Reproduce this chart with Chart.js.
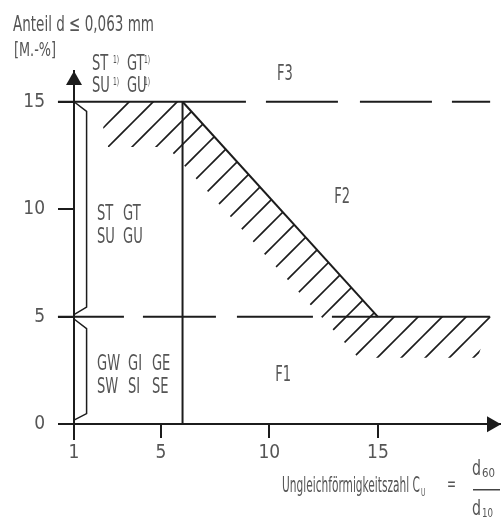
<!DOCTYPE html>
<html>
<head>
<meta charset="utf-8">
<script src="https://cdn.jsdelivr.net/npm/chart.js@4.4.0/dist/chart.umd.min.js"></script>
<style>
  html, body { margin: 0; padding: 0; background: #fff; }
  #wrap { width: 501px; height: 530px; }
</style>
</head>
<body>
<div id="wrap"><canvas id="chart"></canvas></div>
<script>
// tick values
const xTicks = [1, 5, 10, 15];
const yTicks = [0, 5, 10, 15];

// boundary lines, [C_U, Anteil M.-%]
const line15 = [[0.26, 15], [20.17, 15]];
const line5 = [[0.26, 5], [20.17, 5]];
const lineCu6 = [[6, 0], [6, 15]];
const lineSlope = [[6, 15], [15, 5]];

// braces next to the y axis
const braceUpper = [[1, 15], [1.58, 14.55], [1.58, 5.45], [1, 5.1]];
const braceLower = [[1, 4.9], [1.58, 4.45], [1.58, 0.5], [1, 0.2]];

// hatched transition zone
const hatchZone = [
  [3.3, 15], [6, 15], [15, 5], [20.2, 5], [19.6, 3.1],
  [14.1, 3.1], [5.3, 12.9], [2.57, 12.9], [2.34, 13.83], [3.3, 15]
];

const INK = '#1c1c1c';
const TXT = '#555';
const FONT = "'Liberation Sans Narrow', 'DejaVu Sans Condensed', sans-serif";

// hatch pattern, lines at 45 deg
const tile = document.createElement('canvas');
tile.width = 24;
tile.height = 24;
const tc = tile.getContext('2d');
tc.strokeStyle = INK;
tc.lineWidth = 1.6;
tc.beginPath();
tc.moveTo(-2, 17); tc.lineTo(17, -2);
tc.moveTo(13, 26); tc.lineTo(26, 13);
tc.stroke();
const hatch = tc.createPattern(tile, 'repeat');

const toPts = a => a.map(([x, y]) => ({x, y}));

const lineDs = (pts, extra) => Object.assign({
  data: toPts(pts),
  showLine: true,
  borderColor: INK,
  borderWidth: 2,
  pointRadius: 0,
  fill: false,
  tension: 0,
  clip: false
}, extra);

function drawText(ctx, str, x, y, size, opts) {
  opts = opts || {};
  ctx.save();
  ctx.font = size + 'px ' + FONT;
  let sx = opts.sx || 0.66;
  if (opts.width) sx = opts.width / ctx.measureText(str).width;
  ctx.translate(x, y);
  ctx.scale(sx, 1);
  ctx.textAlign = opts.align || 'left';
  ctx.textBaseline = 'alphabetic';
  ctx.fillText(str, 0, 0);
  ctx.restore();
}

const labels = {
  id: 'labels',
  afterDraw(chart) {
    const {ctx, chartArea, scales: {x, y}} = chart;
    const px = v => x.getPixelForValue(v);
    const py = v => y.getPixelForValue(v);

    // arrow heads
    ctx.save();
    ctx.fillStyle = INK;
    const ax = px(1), ay = py(0);
    ctx.beginPath();
    ctx.moveTo(ax, chartArea.top);
    ctx.lineTo(ax - 8, chartArea.top + 14);
    ctx.lineTo(ax + 8, chartArea.top + 14);
    ctx.closePath();
    ctx.fill();
    ctx.beginPath();
    ctx.moveTo(chartArea.right, ay);
    ctx.lineTo(chartArea.right - 14, ay - 8);
    ctx.lineTo(chartArea.right - 14, ay + 8);
    ctx.closePath();
    ctx.fill();
    ctx.restore();

    ctx.fillStyle = TXT;

    // y title
    drawText(ctx, 'Anteil d \u2264 0,063 mm', 13, 30.5, 22, {width: 141});
    drawText(ctx, '[M.-%]', 14, 56, 20, {width: 42});

    // footnoted classes above the plot
    drawText(ctx, 'ST', 92, 70, 22);
    drawText(ctx, '1)', 113, 63, 10);
    drawText(ctx, 'GT', 127, 70, 22);
    drawText(ctx, '1)', 144, 63, 10);
    drawText(ctx, 'SU', 92, 91.7, 22);
    drawText(ctx, '1)', 113, 85, 10);
    drawText(ctx, 'GU', 127, 91.7, 22);
    drawText(ctx, '1)', 144, 85, 10);

    // fields
    drawText(ctx, 'F3', px(10.72), py(16.0), 22, {align: 'center'});
    drawText(ctx, 'F2', px(13.35), py(10.28), 22, {align: 'center'});
    drawText(ctx, 'F1', px(10.63), py(2.01), 22, {align: 'center'});

    // soil groups
    drawText(ctx, 'ST', px(2.06), py(9.5), 22);
    drawText(ctx, 'GT', px(3.26), py(9.5), 22);
    drawText(ctx, 'SU', px(2.06), py(8.43), 22);
    drawText(ctx, 'GU', px(3.26), py(8.43), 22);
    drawText(ctx, 'GW', px(2.06), py(2.52), 22);
    drawText(ctx, 'GI', px(3.49), py(2.52), 22);
    drawText(ctx, 'GE', px(4.59), py(2.52), 22);
    drawText(ctx, 'SW', px(2.06), py(1.45), 22);
    drawText(ctx, 'SI', px(3.49), py(1.45), 22);
    drawText(ctx, 'SE', px(4.59), py(1.45), 22);

    // x title
    drawText(ctx, 'Ungleichf\u00f6rmigkeitszahl C', 282, 492, 21, {width: 138});
    drawText(ctx, 'U', 421, 496, 10);
    drawText(ctx, '=', 447, 490, 20, {width: 9});
    drawText(ctx, 'd', 472, 475, 21, {width: 9});
    drawText(ctx, '60', 482, 477, 12, {width: 13});
    drawText(ctx, 'd', 472, 515, 21, {width: 9});
    drawText(ctx, '10', 482, 517, 12, {width: 11});
    ctx.fillStyle = '#444';
    ctx.fillRect(473, 489, 27, 1.5);
  }
};

new Chart(document.getElementById('chart'), {
  type: 'scatter',
  data: {
    datasets: [
      lineDs(hatchZone, {borderWidth: 0, borderColor: 'rgba(0,0,0,0)', backgroundColor: hatch, fill: 'shape'}),
      lineDs(line15, {borderDash: [188, 20, 72, 22, 72, 20, 40]}),
      lineDs(line5, {borderDash: [66, 19, 73, 21, 76, 19, 158]}),
      lineDs(lineCu6),
      lineDs(lineSlope),
      lineDs(braceUpper, {borderWidth: 1.5}),
      lineDs(braceLower, {borderWidth: 1.5})
    ]
  },
  options: {
    responsive: true,
    maintainAspectRatio: false,
    animation: false,
    layout: {padding: {left: 0, right: 0, top: 71, bottom: 91}},
    plugins: {legend: {display: false}, tooltip: {enabled: false}},
    scales: {
      x: {
        type: 'linear',
        min: 1,
        max: 20.67,
        position: {y: 0},
        afterBuildTicks: s => { s.ticks = xTicks.map(v => ({value: v})); },
        grid: {drawOnChartArea: false, drawTicks: true, tickLength: 13, color: INK, lineWidth: 2},
        border: {display: true, color: INK, width: 2},
        ticks: {color: TXT, font: {family: FONT, size: 19}, padding: 4}
      },
      y: {
        type: 'linear',
        min: -0.68,
        max: 16.43,
        position: 'left',
        afterFit: s => { s.width = 74; },
        afterBuildTicks: s => { s.ticks = yTicks.map(v => ({value: v})); },
        grid: {drawOnChartArea: false, drawTicks: true, tickLength: 16, color: INK, lineWidth: 2},
        border: {display: true, color: INK, width: 2},
        ticks: {color: TXT, font: {family: FONT, size: 19}, padding: 13}
      }
    }
  },
  plugins: [labels]
});
</script>
</body>
</html>
